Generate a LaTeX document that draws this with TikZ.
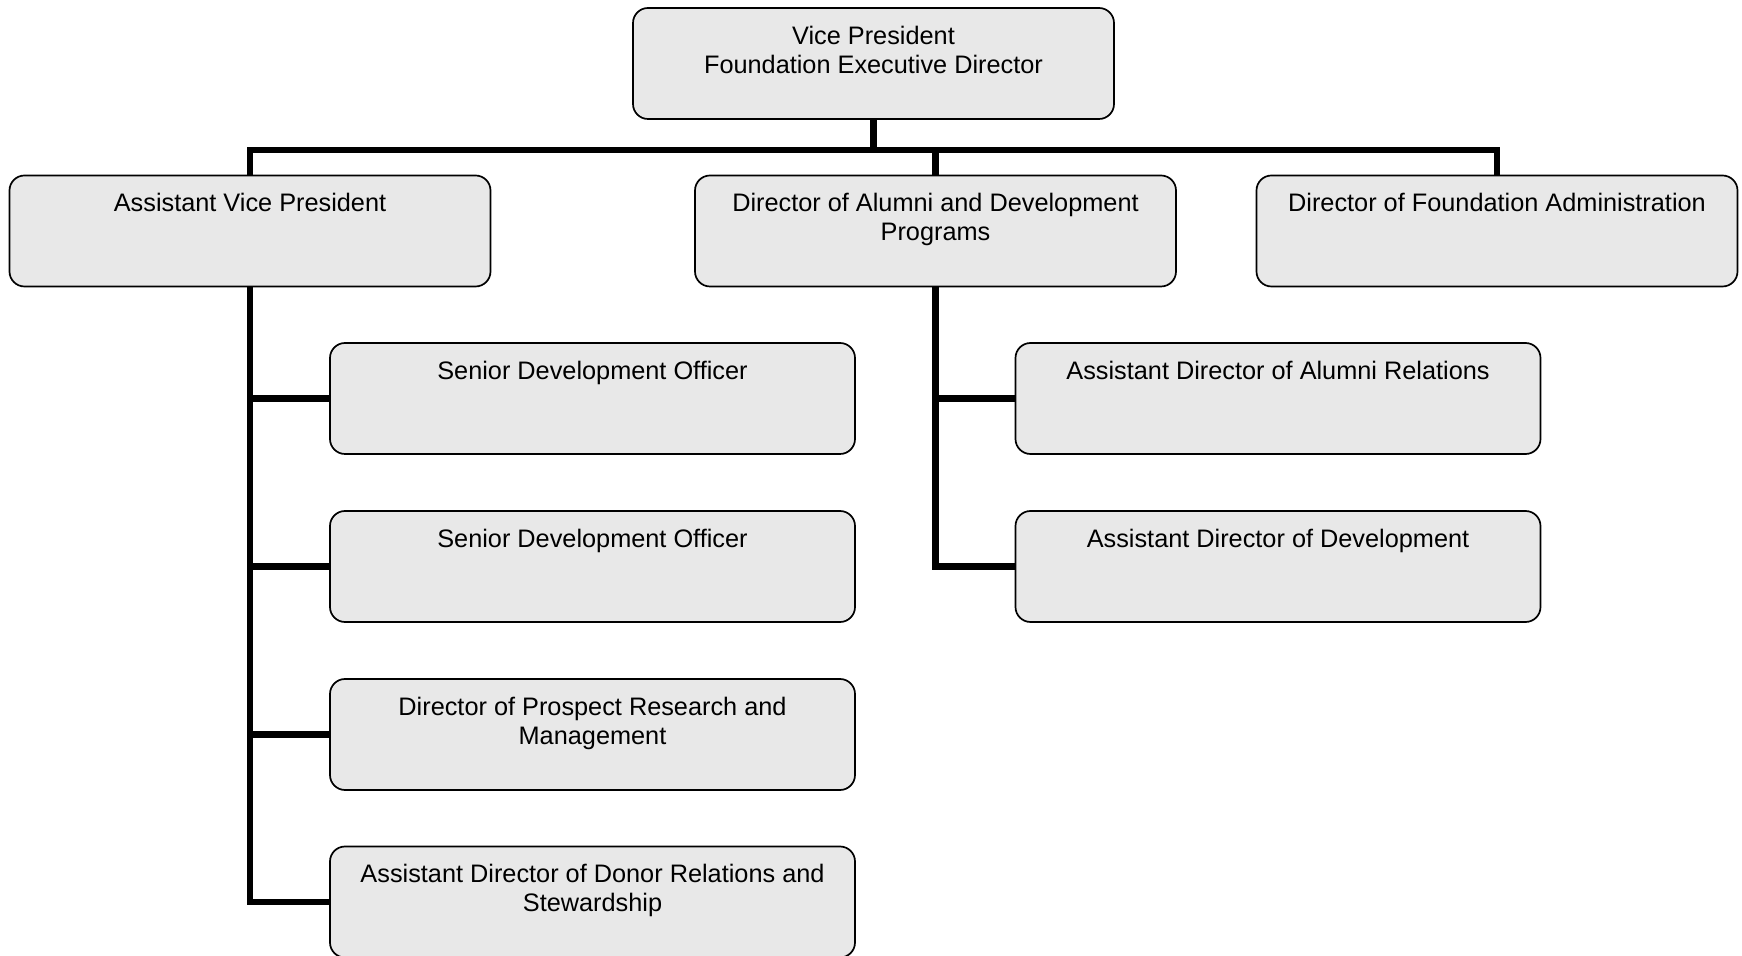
\documentclass[tikz,border=0pt]{standalone}
\usepackage{fontspec}
\setmainfont{Liberation Sans}
\begin{document}
\begin{tikzpicture}[x=0.5pt,y=-0.5pt,
  box/.style={draw=black, line width=0.85pt, fill=boxgray, rounded corners=7.5pt,
    minimum height=55.5pt, inner sep=0pt},
  wbox/.style={box, minimum width=240.5pt},
  lbox/.style={box, minimum width=262.5pt},
  txt/.style={anchor=north, yshift=-9.2pt, inner sep=0pt, align=center,
    font=\fontsize{12.65}{14.45}\selectfont},
  conn/.style={line width=3.1pt, line join=miter}]
\definecolor{boxgray}{RGB}{232,232,232}
\useasboundingbox (0,0) rectangle (1742,956);
\clip (0,0) rectangle (1742,956);
\coordinate (bar) at (0,150);
% nodes
\node[wbox, label={[txt]north:{Vice President\\Foundation Executive Director}}] (vp) at (873.5,63.5) {};
\node[wbox, label={[txt]north:{Assistant Vice President}}] (avp) at (250,231) {};
\node[wbox, label={[txt]north:{Director of Alumni and Development\\Programs}}] (dad) at (935.5,231) {};
\node[wbox, label={[txt]north:{Director of Foundation Administration}}] (dfa) at (1497,231) {};
\node[lbox, label={[txt]north:{Senior Development Officer}}] (sdo1) at (592.5,398.5) {};
\node[lbox, label={[txt]north:{Senior Development Officer}}] (sdo2) at (592.5,566.5) {};
\node[lbox, label={[txt]north:{Director of Prospect Research and\\Management}}] (dpr) at (592.5,734.5) {};
\node[lbox, label={[txt]north:{Assistant Director of Donor Relations and\\Stewardship}}] (adr) at (592.5,902) {};
\node[lbox, label={[txt]north:{Assistant Director of Alumni Relations}}] (adar) at (1278,398.5) {};
\node[lbox, label={[txt]north:{Assistant Director of Development}}] (adev) at (1278,566.5) {};
% connectors
\draw[conn] (vp.south) -- (vp.south |- bar);
\draw[conn] (avp.north) -- (avp.north |- bar) -- (dfa.north |- bar) -- (dfa.north);
\draw[conn] (dad.north) -- (dad.north |- bar);
\draw[conn] (avp.south) |- (adr.west);
\draw[conn] (avp.south |- sdo1.west) -- (sdo1.west);
\draw[conn] (avp.south |- sdo2.west) -- (sdo2.west);
\draw[conn] (avp.south |- dpr.west) -- (dpr.west);
\draw[conn] (dad.south) |- (adev.west);
\draw[conn] (dad.south |- adar.west) -- (adar.west);
\end{tikzpicture}
\end{document}
